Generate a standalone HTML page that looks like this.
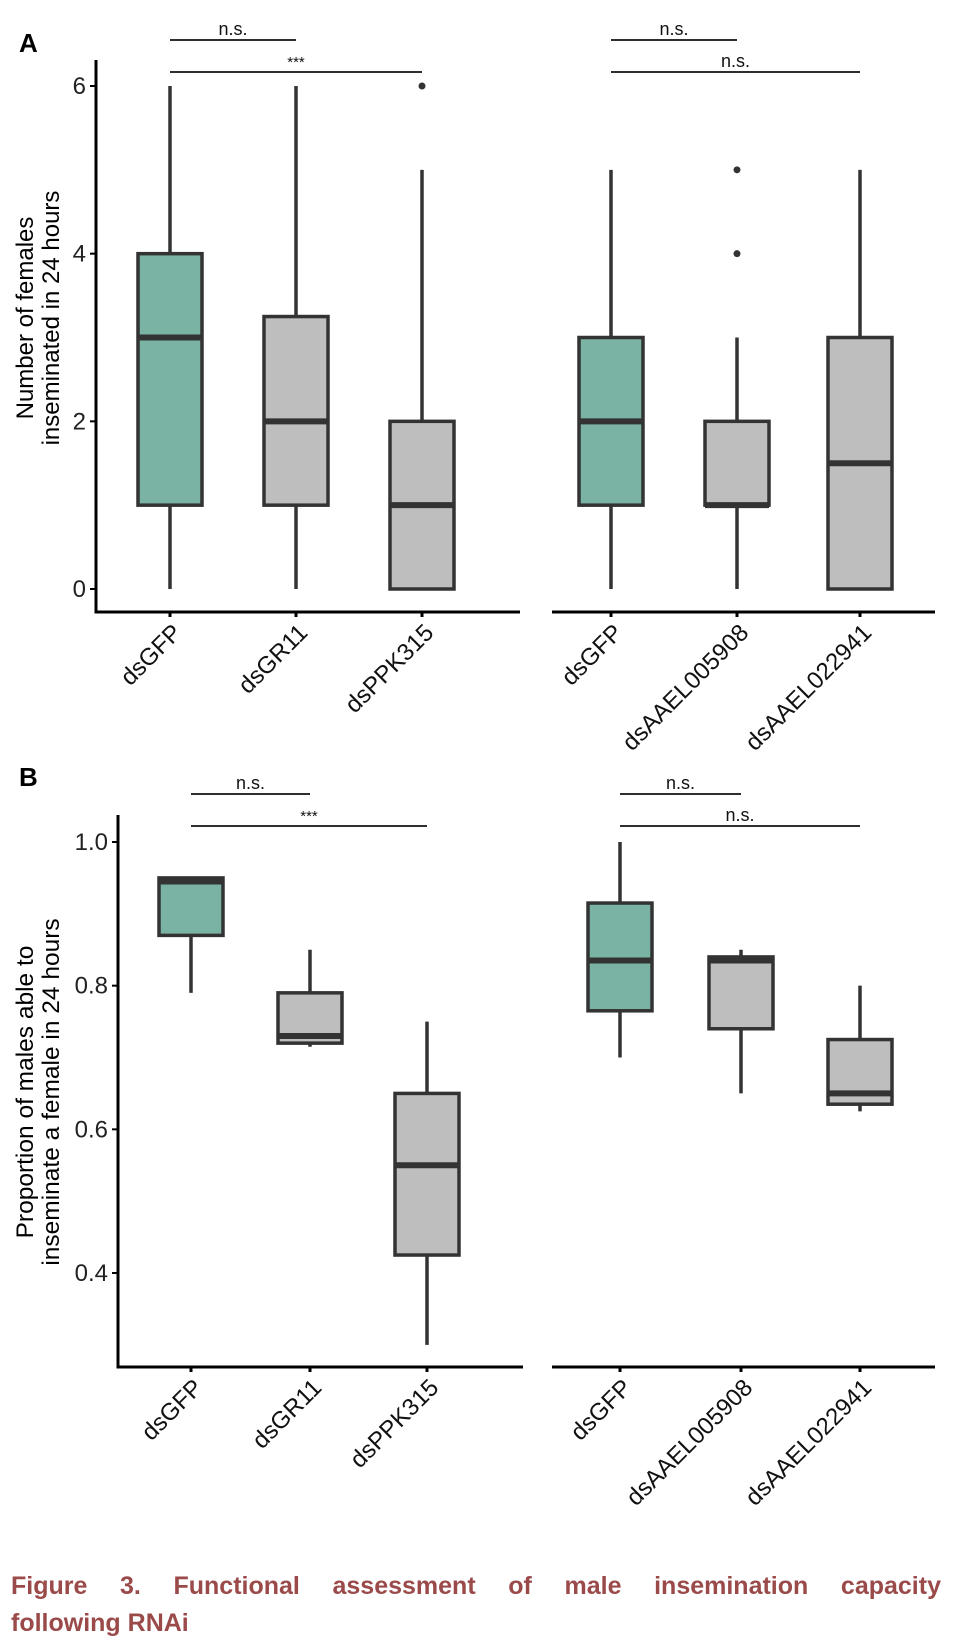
<!DOCTYPE html>
<html><head><meta charset="utf-8"><style>
html,body{margin:0;padding:0;background:#fff;}
body{position:relative;width:960px;height:1640px;overflow:hidden;}
svg{display:block;font-family:"Liberation Sans",Arial,sans-serif;}
#cap{position:absolute;left:11px;top:1568px;width:930px;font-family:"Liberation Sans",Arial,sans-serif;font-weight:bold;font-size:25px;line-height:37px;color:#9b4a4a;text-align:justify;}
#cap .l1{display:block;text-align-last:justify;}
</style></head><body>
<svg id="fig" width="960" height="1640" viewBox="0 0 960 1640" xmlns="http://www.w3.org/2000/svg">
<text x="19" y="52" font-size="26" font-weight="bold">A</text>
<text x="19" y="786" font-size="26" font-weight="bold">B</text>
<text transform="translate(33,318) rotate(-90)" text-anchor="middle" font-size="24"><tspan x="0" dy="0">Number of females</tspan><tspan x="0" dy="26">inseminated in 24 hours</tspan></text>
<text transform="translate(33,1092) rotate(-90)" text-anchor="middle" font-size="24.5"><tspan x="0" dy="0">Proportion of males able to</tspan><tspan x="0" dy="26">inseminate a female in 24 hours</tspan></text>
<g id="plots"></g>
</svg>
<div id="cap"><span class="l1">Figure 3. Functional assessment of male insemination capacity</span>following RNAi</div>
<script>
const catsLeft = ["dsGFP","dsGR11","dsPPK315"];
const catsRight = ["dsGFP","dsAAEL005908","dsAAEL022941"];
// [min, q1, median, q3, max]
const boxesA_left = [[0,1,3,4,6],[0,1,2,3.25,6],[0,0,1,2,5]];
const outliersA_left = [[],[],[6]];
const boxesA_right = [[0,1,2,3,5],[0,1,1,2,3],[0,0,1.5,3,5]];
const outliersA_right = [[],[4,5],[]];
const ticksA = [0,2,4,6];
const boxesB_left = [[0.79,0.87,0.945,0.95,0.95],[0.715,0.72,0.73,0.79,0.85],[0.30,0.425,0.55,0.65,0.75]];
const boxesB_right = [[0.70,0.765,0.835,0.915,1.0],[0.65,0.74,0.835,0.84,0.85],[0.625,0.635,0.65,0.725,0.80]];
const ticksB = [0.4,0.6,0.8,1.0];
const ticksBLabels = ["0.4","0.6","0.8","1.0"];

const NS="http://www.w3.org/2000/svg";
const g=document.getElementById('plots');
function mk(tag,attrs,parent){const e=document.createElementNS(NS,tag);for(const k in attrs)e.setAttribute(k,attrs[k]);(parent||g).appendChild(e);return e;}

function panel(opt){
  const y=v=>opt.y0+(v-opt.v0)*(opt.y1-opt.y0)/(opt.v1-opt.v0);
  const sides=[{cats:catsLeft,boxes:opt.boxesL,outs:opt.outsL,cx:opt.cxL,ax:opt.axL},
               {cats:catsRight,boxes:opt.boxesR,outs:opt.outsR,cx:opt.cxR,ax:opt.axR}];
  sides.forEach((s,si)=>{
    const base=mk('line',{x1:s.ax[0],x2:s.ax[1],y1:opt.xAxisY,y2:opt.xAxisY,stroke:'#000','stroke-width':3});
    
    
    s.cats.forEach((c,i)=>{
      const cx=s.cx[i], b=s.boxes[i], hw=32;
      const tk=mk('line',{x1:cx,x2:cx,y1:opt.xAxisY,y2:opt.xAxisY+5,stroke:'#000','stroke-width':3});
      
      
      const wh=mk('line',{x1:cx,x2:cx,y1:y(b[0]),y2:y(b[4]),stroke:'#333','stroke-width':3.5});
      
      
      const bx=mk('rect',{x:cx-hw,y:y(b[3]),width:hw*2,height:Math.max(0.5,y(b[1])-y(b[3])),fill:i===0?'#7ab3a4':'#bebebe',stroke:'#333','stroke-width':3.5});
      
      
      const md=mk('line',{x1:cx-hw,x2:cx+hw,y1:y(b[2]),y2:y(b[2]),stroke:'#333','stroke-width':6});
      
      
      (s.outs?s.outs[i]:[]).forEach(o=>{
        const d=mk('circle',{cx:cx,cy:y(o),r:3.5,fill:'#333'});
        
        
      });
      const lb=mk('text',{transform:`translate(${cx+13},${opt.xAxisY+22}) rotate(-45)`,'text-anchor':'end','font-size':24,fill:'#111'});
      lb.textContent=c;
      
      
    });
    [[1,opt.sigY[0],"n.s."],[2,opt.sigY[1],si?"n.s.":"***"]].forEach(([j,yy,t])=>{
      const l=mk('line',{x1:s.cx[0],x2:s.cx[j],y1:yy,y2:yy,stroke:'#111','stroke-width':1.8});
      
      
      const tx=mk('text',{x:(s.cx[0]+s.cx[j])/2,y:yy-5,'text-anchor':'middle','font-size':t==="***"?15:18,fill:'#111'});
      tx.textContent=t;
      
      
    });
  });
  const ya=mk('line',{x1:opt.yAxisX,x2:opt.yAxisX,y1:opt.yAxisTop,y2:opt.xAxisY+1.5,stroke:'#000','stroke-width':3});
  
  
  opt.ticks.forEach((t,i)=>{
    const tl=mk('line',{x1:opt.yAxisX-6,x2:opt.yAxisX,y1:y(t),y2:y(t),stroke:'#000','stroke-width':2});
    
    
    const tt=mk('text',{x:opt.yAxisX-10,y:y(t)+8,'text-anchor':'end','font-size':24,fill:'#222'});
    tt.textContent=opt.tickLabels[i];
    
    
  });
}
panel({id:'panel-a',v0:0,v1:6,y0:589,y1:86,boxesL:boxesA_left,outsL:outliersA_left,boxesR:boxesA_right,outsR:outliersA_right,
  cxL:[170,296,422],cxR:[611,737,860],axL:[96,520],axR:[552,935],xAxisY:612,yAxisX:96,yAxisTop:60,
  ticks:ticksA,tickLabels:ticksA.map(String),sigY:[40,72]});
panel({id:'panel-b',v0:0.4,v1:1.0,y0:1273,y1:842,boxesL:boxesB_left,boxesR:boxesB_right,
  cxL:[191,310,427],cxR:[620,741,860],axL:[118,523],axR:[552,935],xAxisY:1367,yAxisX:118,yAxisTop:815,
  ticks:ticksB,tickLabels:ticksBLabels,sigY:[794,826]});
</script>
</body></html>
